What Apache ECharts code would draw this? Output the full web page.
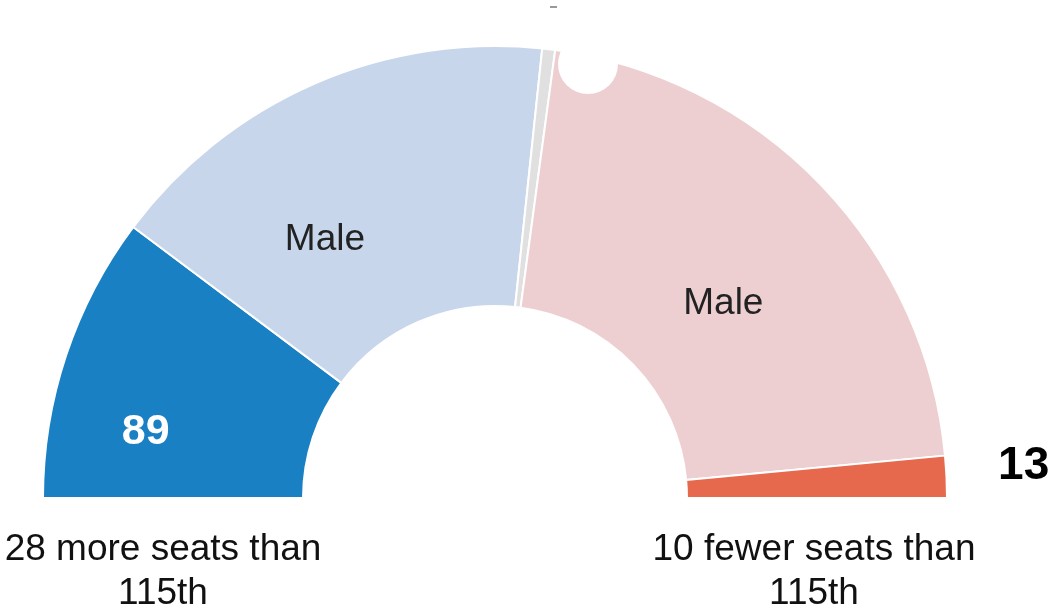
<!DOCTYPE html>
<html>
<head>
<meta charset="utf-8">
<script src="https://cdn.jsdelivr.net/npm/echarts@6/dist/echarts.min.js"></script>
<style>
  html, body { margin: 0; padding: 0; background: #fff; }
  #main { width: 1049px; height: 609px; }
</style>
</head>
<body>
<div id="main"></div>
<script>
// seats by group, left to right round the half ring
var groups = ['Democrat female', 'Democrat male', 'Undecided', 'Republican male', 'Republican female'];
var seats = [89, 143, 4, 186, 13];
var sliceText = ['{c}', 'Male', '', 'Male', '{c}'];
var colors = ['#1a80c4', '#c8d6ec', '#e0e0e0', '#eecfd1', '#e6694e'];
var changeNotes = ['28 more seats than\n115th', '10 fewer seats than\n115th'];

var chart = echarts.init(document.getElementById('main'));

var total = seats.reduce(function (a, b) { return a + b; }, 0);

// label styles per slice
var labelStyles = [
  { color: '#fff', fontSize: 43, fontWeight: 'bold', offset: [-41, 37] },
  { color: '#222', fontSize: 37, offset: [-40, 40] },
  { show: false },
  { color: '#222', fontSize: 37, offset: [-6, 31] },
  { color: '#000', fontSize: 46, fontWeight: 'bold', offset: [204, -16] }
];

var pieData = groups.map(function (g, i) {
  var lab = Object.assign({ formatter: sliceText[i] }, labelStyles[i]);
  return { name: g, value: seats[i], itemStyle: { color: colors[i] }, label: lab };
});
// hidden lower half
pieData.push({
  name: 'hidden', value: total,
  itemStyle: { color: 'rgba(0,0,0,0)', borderWidth: 0 },
  label: { show: false }, emphasis: { disabled: true }
});

var option = {
  backgroundColor: '#fff',
  animation: false,
  series: [{
    type: 'pie',
    center: [495, 498],
    radius: [192, 452],
    startAngle: 180,
    clockwise: true,
    avoidLabelOverlap: false,
    itemStyle: { borderColor: '#fff', borderWidth: 2 },
    label: { show: true, position: 'inside', fontFamily: 'Liberation Sans, Arial, sans-serif' },
    labelLine: { show: false },
    emphasis: { scale: false },
    data: pieData
  }],
  graphic: [
    { type: 'circle', shape: { cx: 588, cy: 64, r: 30 }, style: { fill: '#fff' }, z: 100 },
    { type: 'rect', shape: { x: 550, y: 6, width: 7, height: 2 }, style: { fill: '#999' } },
    {
      type: 'text', x: 163, y: 572,
      style: {
        text: changeNotes[0], fill: '#111', fontSize: 37, lineHeight: 44,
        fontFamily: 'Liberation Sans, Arial, sans-serif', align: 'center', verticalAlign: 'middle'
      }
    },
    {
      type: 'text', x: 814, y: 572,
      style: {
        text: changeNotes[1], fill: '#111', fontSize: 37, lineHeight: 44,
        fontFamily: 'Liberation Sans, Arial, sans-serif', align: 'center', verticalAlign: 'middle'
      }
    }
  ]
};

chart.setOption(option);
</script>
</body>
</html>
